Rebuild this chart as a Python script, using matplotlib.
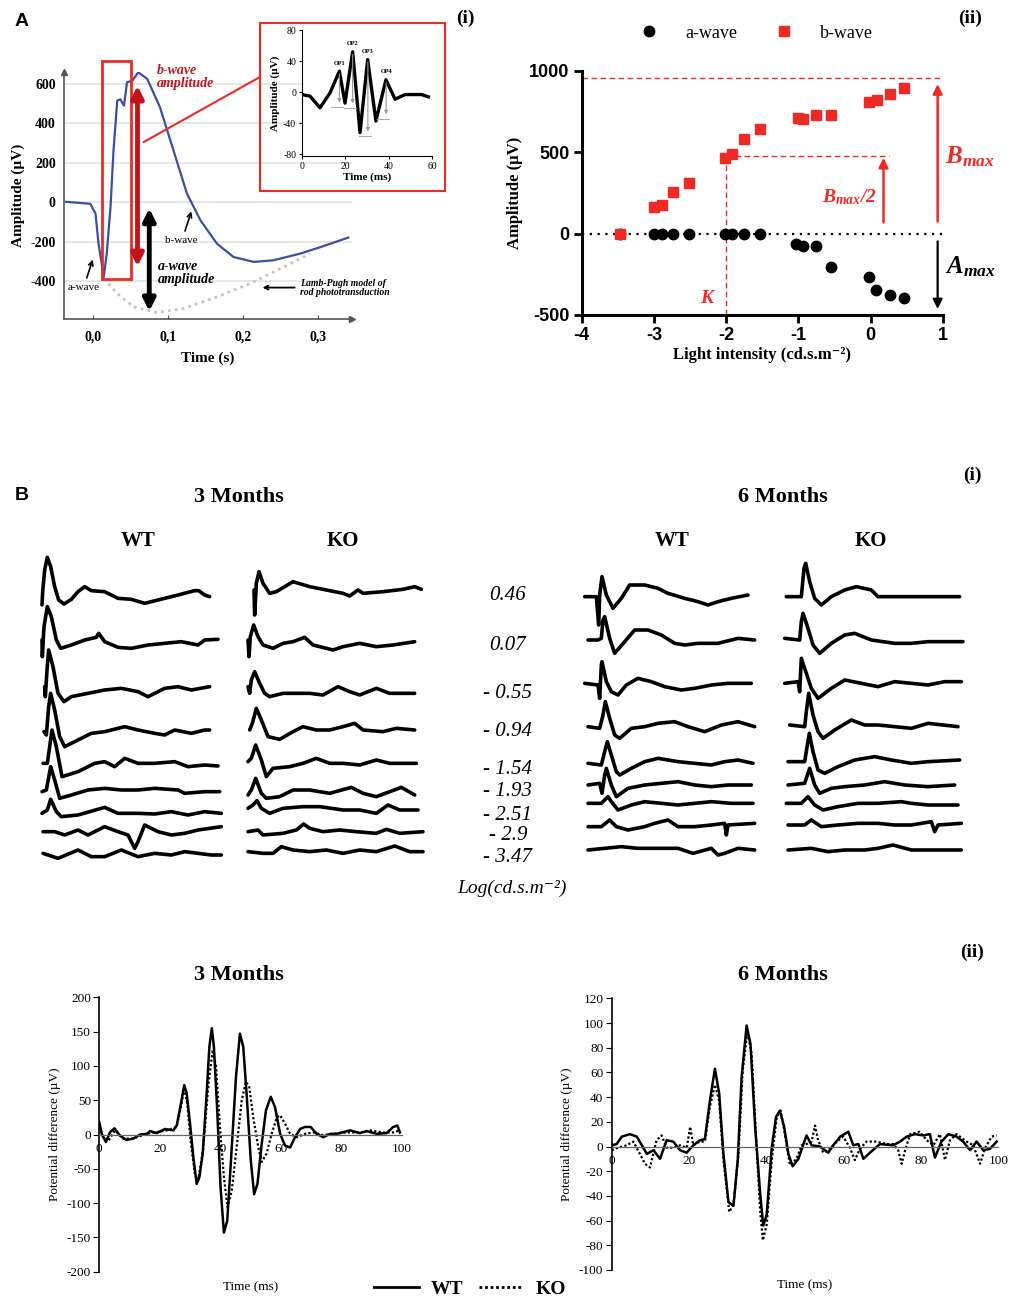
import matplotlib
matplotlib.use("Agg")
import matplotlib.pyplot as plt
from matplotlib.patches import Rectangle, ConnectionPatch
from matplotlib.lines import Line2D

plt.rcParams['font.family'] = ['Liberation Serif', 'DejaVu Serif']
plt.rcParams['axes.unicode_minus'] = False
plt.rcParams['mathtext.fontset'] = 'custom'
plt.rcParams['mathtext.rm'] = 'Liberation Serif'
plt.rcParams['mathtext.it'] = 'Liberation Serif:italic'
plt.rcParams['mathtext.bf'] = 'Liberation Serif:bold:italic'

W, H = 1012, 1300
RED = '#ee2a24'
DARKRED = '#c0141c'

# ---------------- panel A(i): single flash ERG ----------------
erg_t = [-0.036, -0.004, 0.003, 0.007, 0.014, 0.018, 0.023, 0.027, 0.032, 0.036, 0.041, 0.045,
         0.052, 0.060, 0.072, 0.089, 0.107, 0.125, 0.143, 0.165, 0.187, 0.214, 0.240, 0.276,
         0.303, 0.340]
erg_amp = [3, -7, -56, -207, -377, -258, -24, 263, 515, 522, 490, 608,
           616, 658, 625, 481, 263, 44, -91, -209, -276, -301, -293, -259,
           -226, -178]
lamb_t = [0.014, 0.032, 0.054, 0.085, 0.120, 0.165, 0.209, 0.254, 0.289]
lamb_amp = [-385, -461, -529, -557, -537, -478, -411, -327, -259]

# inset: oscillatory potentials
op_t = [0, 3.8, 8.4, 13, 17.3, 19.9, 23.4, 26.8, 30.3, 34.1, 38.7, 42.9, 47.5, 55.1, 58.2]
op_amp = [-3, -5, -20, -1, 27, -14, 52, -52, 42, -37, 16, -9, -3, -3, -6]
op_names = ['OP1', 'OP2', 'OP3', 'OP4']
op_peak_t = [17.3, 23.4, 30.4, 38.8]
op_peak_amp = [27, 52, 42, 16]
op_trough_amp = [-19, -20, -56, -34]

# ---------------- panel A(ii): intensity response ----------------
a_int = [-3.47, -3.0, -2.89, -2.73, -2.51, -2.02, -1.92, -1.75, -1.53, -1.03, -0.94, -0.75,
         -0.55, -0.02, 0.077, 0.27, 0.47]
a_amp = [0, 0, 0, 0, 0, 0, 0, 0, 0, -61, -78, -78, -204, -266, -344, -378, -395]
b_int = [-3.47, -3.0, -2.89, -2.73, -2.51, -2.02, -1.92, -1.75, -1.53, -1.01, -0.93, -0.75,
         -0.55, -0.02, 0.086, 0.27, 0.47]
b_amp = [0, 164, 174, 256, 311, 466, 491, 579, 640, 712, 706, 726, 730, 808, 822, 859, 894]
b_max = 955
k_int = -2.0

# ---------------- panel B(i): ERG traces, 9 intensities ----------------
intensity_labels = ['0.46', '0.07', '- 0.55', '- 0.94', '- 1.54', '- 1.93', '- 2.51', '- 2.9', '- 3.47']

wt3_traces = [
    ([12, 14, 20, 28, 38, 50, 62, 78, 100, 120, 140, 160, 200, 240, 280, 320, 360, 420, 470, 482, 500, 515],
     [-25, 15, 80, 118, 90, 30, -10, -22, -8, 15, 30, 18, 15, -5, -8, -20, -10, 5, 18, 18, 5, 0]),
    ([12, 13, 18, 28, 40, 55, 68, 100, 140, 175, 182, 200, 240, 280, 330, 380, 430, 480, 500, 540],
     [10, -40, 50, 110, 80, 10, -15, -5, 10, 18, 30, 5, -12, -15, -5, 0, 5, -5, 10, 12]),
    ([20, 22, 27, 32, 45, 60, 78, 100, 150, 200, 250, 300, 330, 380, 420, 460, 515],
     [10, -20, 60, 120, 70, -10, -35, -20, -10, 0, 5, -5, -20, 5, 10, 0, 10]),
    ([18, 25, 32, 38, 50, 65, 80, 110, 160, 200, 260, 300, 350, 380, 410, 460, 500, 515],
     [0, -10, 75, 115, 65, -15, -45, -30, -5, 0, 15, 5, -5, -10, 5, -5, 5, 5]),
    ([15, 28, 42, 55, 72, 120, 170, 200, 230, 260, 300, 350, 410, 450, 500, 540],
     [10, 10, 110, 60, -30, -15, 10, 15, 0, 25, 10, 10, 15, 0, 5, 2]),
    ([12, 25, 38, 50, 65, 100, 150, 200, 250, 300, 350, 420, 440, 500, 545],
     [0, 5, 75, 35, -20, -10, 5, 10, 5, 5, 10, 5, -5, 0, 0]),
    ([12, 28, 38, 55, 70, 120, 200, 240, 300, 350, 400, 450, 500, 550],
     [0, 10, 42, 5, -10, -5, 18, 0, 0, -2, 5, -5, 5, 0]),
    ([15, 50, 80, 120, 150, 200, 240, 270, 290, 300, 320, 360, 400, 440, 480, 550],
     [0, 0, -10, 5, -10, 15, 0, -10, -50, -30, 20, 0, -10, -5, 5, 15]),
    ([15, 60, 120, 160, 200, 250, 300, 350, 400, 440, 480, 520, 550],
     [5, -10, 15, -5, -5, 15, -5, 5, 0, 10, 5, 0, 0]),
]
ko3_traces = [
    ([33, 35, 40, 48, 60, 80, 100, 150, 200, 250, 300, 320, 345, 360, 420, 480, 515, 535],
     [0, -75, 20, 55, 20, -10, -5, 25, 10, 0, -10, -18, 0, -10, -5, 2, 10, 2]),
    ([15, 18, 22, 32, 45, 60, 90, 120, 150, 185, 210, 250, 270, 300, 350, 400, 450, 515],
     [10, -40, 20, 55, 20, -5, -15, 0, 5, 18, -5, -15, -20, -10, 0, -10, -5, 5]),
    ([15, 20, 25, 35, 50, 65, 80, 120, 160, 200, 240, 285, 320, 350, 400, 440, 515],
     [20, 0, 40, 65, 30, 0, -10, 0, 0, 0, -5, 20, 5, -5, 15, 0, 0]),
    ([20, 28, 40, 55, 75, 110, 150, 180, 220, 260, 300, 335, 360, 420, 460, 515],
     [0, 20, 65, 30, -20, -28, -5, 10, 0, 0, 10, 20, 0, -5, 5, 0]),
    ([15, 25, 38, 55, 70, 90, 140, 180, 220, 260, 300, 350, 400, 440, 520],
     [10, 20, 60, 15, -35, -10, -5, 5, 20, 5, 5, 0, 15, 5, 5]),
    ([15, 25, 38, 55, 70, 110, 150, 200, 260, 325, 360, 400, 475, 515],
     [-5, 10, 45, 0, -15, -10, 10, 10, 0, 18, 0, -10, 18, -5]),
    ([15, 30, 42, 55, 80, 120, 180, 230, 300, 350, 400, 435, 470, 525],
     [5, 15, 28, 5, -10, 5, 10, 10, 0, 0, -10, 15, 0, 0]),
    ([15, 45, 60, 120, 160, 182, 200, 240, 290, 340, 400, 430, 470, 540],
     [0, 5, -10, -5, 5, 23, 10, 0, 5, 0, -5, 7, -5, 0]),
    ([15, 60, 90, 115, 150, 200, 250, 300, 350, 400, 455, 500, 540],
     [0, -5, -5, 15, 5, 0, 5, -5, 5, 0, 17, 0, 0]),
]
wt6_traces = [
    ([20, 55, 62, 65, 72, 85, 105, 130, 155, 200, 240, 270, 320, 360, 390, 420, 460, 510],
     [0, 0, -85, 5, 60, 5, -35, -5, 35, 35, 25, 10, -5, -15, -25, -15, -5, 5]),
    ([30, 60, 70, 75, 80, 95, 110, 140, 170, 210, 250, 290, 320, 360, 420, 480, 530],
     [0, 0, 5, 60, 70, 5, -40, -5, 30, 30, 15, -10, -15, -10, -10, 5, 0]),
    ([20, 60, 65, 70, 72, 85, 100, 120, 145, 180, 220, 260, 310, 350, 400, 450, 520],
     [0, -5, -45, 55, 65, 5, -25, -35, -5, 15, 5, -10, -20, -15, -5, 0, 0]),
    ([30, 65, 75, 82, 95, 110, 125, 160, 200, 240, 290, 330, 380, 430, 480, 530],
     [0, -5, 35, 75, 25, -25, -35, -5, 0, 10, 15, 0, -15, 5, 15, 0]),
    ([30, 70, 80, 88, 100, 115, 125, 160, 200, 240, 300, 350, 400, 440, 480, 525],
     [0, -5, 35, 65, 25, -25, -35, -15, 5, 15, 5, 0, -5, 5, 10, 0]),
    ([30, 65, 72, 80, 85, 100, 115, 150, 200, 250, 300, 350, 400, 450, 520],
     [0, 5, -25, 30, 50, 0, -35, -10, 0, 5, 10, 0, -5, 0, 0]),
    ([30, 70, 90, 100, 120, 160, 200, 250, 300, 350, 400, 460, 525],
     [0, 0, 20, 5, -20, -5, 5, 0, -5, 0, 5, 0, 0]),
    ([30, 70, 95, 115, 150, 200, 230, 270, 300, 350, 400, 440, 445, 450, 530],
     [0, 0, 20, 0, -10, 0, 10, 20, 0, 0, 5, 10, -25, 5, 10]),
    ([30, 80, 130, 180, 230, 300, 345, 400, 420, 440, 480, 530],
     [0, 5, 10, 5, 5, 5, -10, 5, -15, -10, 5, 0]),
]
ko6_traces = [
    ([25, 70, 78, 83, 95, 110, 130, 160, 200, 235, 280, 300, 350, 400, 450, 545],
     [0, 0, 85, 100, 45, -5, -25, 0, 20, 30, 20, 0, 0, 0, 0, 0]),
    ([20, 65, 70, 75, 90, 105, 125, 160, 200, 230, 280, 350, 400, 450, 500, 555],
     [5, 0, 55, 80, 35, -15, -40, -10, 15, 20, 0, -10, -10, -5, -5, -5]),
    ([20, 60, 65, 70, 80, 100, 120, 160, 200, 250, 300, 350, 400, 450, 500, 550],
     [0, 5, -25, 75, 45, -15, -45, -15, 10, 0, -10, 5, 0, -5, 5, 5]),
    ([35, 80, 85, 92, 105, 120, 135, 170, 220, 260, 300, 350, 400, 450, 540],
     [0, -5, 40, 95, 30, -20, -40, -15, 15, 0, 0, -5, -10, 5, -5]),
    ([30, 80, 88, 94, 105, 120, 140, 180, 230, 290, 340, 400, 450, 545],
     [0, 0, 50, 85, 30, -25, -35, -15, 5, 15, 5, -5, 0, 5]),
    ([30, 80, 95, 110, 125, 160, 200, 260, 320, 380, 450, 530],
     [0, 5, 50, 0, -25, -10, -5, 0, 10, 0, -5, 0]),
    ([25, 70, 90, 110, 135, 180, 240, 300, 370, 400, 450, 540],
     [0, 0, 20, -5, -20, -10, 0, 0, 5, 0, -5, -5]),
    ([30, 80, 100, 130, 180, 240, 300, 350, 400, 460, 470, 480, 550],
     [0, 0, 15, -5, 0, 5, 5, 0, 0, 10, -20, 0, 5]),
    ([30, 100, 150, 200, 260, 300, 345, 400, 450, 500, 550],
     [0, 5, -5, 0, 0, 5, 15, 0, 0, 0, 0]),
]

# ---------------- panel B(ii): oscillatory potentials ----------------
wt3_t = [0, 0.8, 2.2, 3.5, 5, 6.8, 9, 11.2, 13.5, 15.7, 16.8, 19, 21.7, 24.5, 25.6, 27.2, 28.1,
         28.9, 30, 31.1, 32.2, 33.1, 34.2, 35.5, 36.4, 37.2, 37.9, 39, 40.1, 41.2, 42.3, 43.8,
         45.2, 46.5, 47.6, 48.7, 50.1, 51.2, 52.3, 53.7, 55.1, 56.7, 58.1, 59.8, 61.4, 63.1,
         64.7, 66.4, 68, 69.9, 71.9, 74.1, 76.3, 78.5, 82.9, 86.2, 88.4, 91.7, 95, 97.2, 98.6, 99.4]
wt3_amp = [18, 1, -11, 3, 9, -1.5, -8, -6, 0, 1, 5, 2, 8, 6, 13, 50, 72, 60, 16, -33, -72, -62,
           -28, 60, 128, 155, 128, 35, -77, -143, -126, -19, 84, 147, 128, 60, -38, -87, -72,
           -14, 35, 55, 40, 1, -16, -19, -4, 8, 11, 11, 1, -4, 1, 1, 6, 2, 5, 1, 2, 11, 13, 3]
ko3_t = [0, 1.3, 3, 5.2, 7.9, 11.2, 15.7, 22.3, 25.6, 27.2, 28.1, 29.1, 30.2, 31.6, 32.7, 34.4,
         36.1, 37.5, 38.6, 39.9, 41.2, 42.4, 43.8, 45.4, 47.1, 48.5, 49.6, 50.9, 52.6, 53.7,
         55.3, 57, 58.7, 59.8, 61.4, 63.1, 65.3, 68, 70.8, 74.1, 77.4, 81.8, 86.2, 89.5, 93.9,
         97.2, 99.4]
ko3_amp = [11, -4, -9, 6, -6, -6, 1, 6, 11, 45, 69, 45, -9, -58, -67, -19, 74, 123, 99, 11, -62,
           -106, -82, -19, 50, 77, 69, 25, -19, -40, -28, 1, 25, 28, 16, 1, -4, 1, 3, -1, 1, 3,
           3, 6, 3, 3, 6]
wt6_t = [0, 1.3, 2.6, 4.7, 6.5, 7.8, 9.1, 10.8, 12.5, 14.2, 15.9, 17.7, 19.4, 21.1, 22.8, 24.1,
         25.4, 26.7, 27.8, 28.9, 30.2, 31.5, 32.6, 33.6, 34.9, 35.9, 37.1, 38.4, 39.2, 40.1,
         41.4, 42.5, 43.5, 44.6, 45.7, 46.8, 48.3, 49.6, 50.4, 51.7, 53.9, 56, 57.3, 59.1,
         61.2, 62.5, 63.8, 65.1, 66.8, 69.4, 72.8, 74.6, 76.3, 78.4, 80.6, 82.3, 83.6, 85.3,
         87.1, 89.2, 90.9, 92.7, 94.4, 96.1, 97.8, 99.6]
wt6_amp = [1, 2, 8, 10, 8, 1, -6, -3, -10, 5, 4, -3, -5, 1, 5, 6, 37, 63, 43, -6, -45, -48, -11,
           56, 98, 83, 16, -38, -64, -55, -1, 24, 29, 16, -6, -16, -10, 2, 9, 1, 0, -5, 1, 8,
           12, 1, 2, -10, -5, 2, 1, 4, 8, 10, 9, 10, -9, 4, 10, 8, 4, -3, 4, -3, -2, 4]
ko6_t = [0, 1.7, 3.9, 5.6, 7.3, 8.6, 9.9, 11.6, 12.9, 14.2, 15.9, 17.7, 19.4, 20.3, 21.1, 22.8,
         24.1, 25.4, 26.7, 27.8, 28.9, 30.4, 31.5, 32.8, 33.9, 35.1, 36.2, 37.3, 38.4, 39.1,
         40.1, 41.4, 42.7, 43.7, 44.8, 46.1, 47.8, 49.1, 50.4, 51.7, 52.6, 53.4, 54.7, 56.5,
         58.2, 59.9, 61.6, 62.9, 64.2, 65.9, 68.5, 71.1, 72.8, 74.1, 75, 75.9, 77.2, 79.7,
         81.5, 83.2, 84.9, 86.2, 87.5, 89.2, 91.8, 93.5, 95.3, 96.6, 98.3, 99.6]
ko6_amp = [-3, -1, 1, 4, -6, -14, -17, 5, 9, -1, -1, 1, -1, 16, 1, 4, 4, 32, 50, 37, -11, -53,
           -47, -6, 62, 93, 75, 10, -52, -76, -63, -11, 24, 29, 10, -15, -10, 1, 2, 4, 17, 5,
           -5, -2, 4, 8, -1, -11, -2, 4, 4, 2, 2, -3, -14, -3, 10, 12, 5, 1, 10, -11, 5, 10, 4,
           1, -14, -1, 8, 9]


def box(x, y, w, h):
    # pixel box (top-left origin) -> figure fraction rect
    return [x / W, 1 - (y + h) / H, w / W, h / H]


def ftext(x, y, s, **kw):
    fig.text(x / W, 1 - y / H, s, **kw)


fig = plt.figure(figsize=(W / 100, H / 100), dpi=100)

# ================= A(i) =================
ax = fig.add_axes(box(64, 72, 288, 247))
ax.set_xlim(-0.039, 0.345)
ax.set_ylim(-590, 660)
for yv in [600, 400, 200, 0, -200, -400]:
    ax.axhline(yv, color='#e3e3e3', lw=1.2, zorder=0)
ax.plot(lamb_t, lamb_amp, color='#c4c4c4', lw=2, ls=(0, (1, 1.5)), zorder=1)
ax.plot(erg_t, erg_amp, color='#3b4ea3', lw=1.6, zorder=3)
ax.add_patch(Rectangle((0.0116, -390), 0.0384, 1104, fill=False, ec=RED, lw=2, clip_on=False, zorder=4))
ax.annotate('', xy=(0.059, 605), xytext=(0.059, -338),
            arrowprops=dict(arrowstyle='<|-|>', color=DARKRED, lw=3.5, mutation_scale=18), zorder=5)
ax.annotate('', xy=(0.0747, -16), xytext=(0.0747, -565),
            arrowprops=dict(arrowstyle='<|-|>', color='black', lw=3.5, mutation_scale=18),
            annotation_clip=False)
ax.text(0.085, 700, 'b-wave\namplitude', color=DARKRED, fontsize=10, fontweight='bold',
        fontstyle='italic', va='top', linespacing=1.0)
ax.text(0.086, -290, 'a-wave\namplitude', color='black', fontsize=10, fontweight='bold',
        fontstyle='italic', va='top', linespacing=1.0)
ax.annotate('b-wave', xy=(0.132, -32), xytext=(0.118, -195), fontsize=8, ha='center', va='center',
            arrowprops=dict(arrowstyle='->', color='black', lw=1.2))
ax.annotate('a-wave', xy=(0.0005, -276), xytext=(-0.013, -432), fontsize=8, ha='center', va='center',
            arrowprops=dict(arrowstyle='->', color='black', lw=1.2))
ax.annotate('Lamb-Pugh model of\nrod phototransduction', xy=(0.222, -431), xytext=(0.276, -431),
            fontsize=7, fontweight='bold', fontstyle='italic', va='center', ha='left', linespacing=1.0,
            arrowprops=dict(arrowstyle='->', color='black', lw=1.3), annotation_clip=False)
for s in ['top', 'right']:
    ax.spines[s].set_visible(False)
for s in ['left', 'bottom']:
    ax.spines[s].set_color('#555555')
    ax.spines[s].set_linewidth(1.2)
ax.plot([0], [1], marker='^', color='#555555', ms=4, transform=ax.transAxes, clip_on=False)
ax.plot([1], [0], marker='>', color='#555555', ms=4, transform=ax.transAxes, clip_on=False)
ax.set_yticks([600, 400, 200, 0, -200, -400])
ax.set_xticks([0.0, 0.1, 0.2, 0.3])
ax.set_xticklabels(['0,0', '0,1', '0,2', '0,3'])
ax.tick_params(axis='y', length=0, labelsize=10, pad=6)
ax.tick_params(axis='x', direction='in', length=3, color='#555555', labelsize=10, pad=8)
for lab in ax.get_xticklabels() + ax.get_yticklabels():
    lab.set_fontweight('bold')
ax.set_ylabel('Amplitude (µV)', fontsize=11, fontweight='bold', labelpad=4)
ax.set_xlabel('Time (s)', fontsize=11, fontweight='bold', labelpad=6)

# inset box + connector
fig.add_artist(Rectangle((260 / W, 1 - 191 / H), 185 / W, 168 / H, transform=fig.transFigure,
                         fill=False, ec=RED, lw=1.5))
fig.add_artist(ConnectionPatch(xyA=(0.067, 305), coordsA=ax.transData,
                               xyB=(260 / W, 1 - 77 / H), coordsB=fig.transFigure, color=RED, lw=1.5))

axi = fig.add_axes(box(301.7, 30, 130.6, 126))
axi.set_xlim(0, 60)
axi.set_ylim(-82, 80)
axi.plot(op_t, op_amp, color='black', lw=2.4, solid_joinstyle='round')
for name, pt, pa, ta in zip(op_names, op_peak_t, op_peak_amp, op_trough_amp):
    axi.plot([pt - 4, pt + 1.5], [ta, ta], color='#aaaaaa', lw=0.8)
    axi.annotate('', xy=(pt, ta + 2), xytext=(pt, pa),
                 arrowprops=dict(arrowstyle='-|>', color='#999999', lw=0.8, mutation_scale=5))
    axi.text(pt, pa + 7, name, fontsize=4.5, fontweight='bold', ha='center', va='bottom')
for s in ['top', 'right']:
    axi.spines[s].set_visible(False)
axi.set_xticks([0, 20, 40, 60])
axi.set_yticks([80, 40, 0, -40, -80])
axi.tick_params(labelsize=7, length=2, pad=2)
axi.set_ylabel('Amplitude (µV)', fontsize=8, fontweight='bold', labelpad=2)
axi.set_xlabel('Time (ms)', fontsize=8, fontweight='bold', labelpad=1)

# ================= A(ii) =================
ax2 = fig.add_axes(box(581.7, 70.7, 361, 244.3))
ax2.set_xlim(-4, 1)
ax2.set_ylim(-500, 1000)
ax2.plot([-4, 1.0], [0, 0], color='black', lw=1.6, ls=(0, (1, 2.5)), zorder=1)
ax2.plot([-4, 1.0], [b_max, b_max], color=RED, lw=1, ls=(0, (4, 2.5)), clip_on=False)
ax2.plot([k_int, k_int], [-500, b_max / 2], color=RED, lw=1, ls=(0, (4, 2.5)))
ax2.plot([k_int, 0.25], [b_max / 2, b_max / 2], color=RED, lw=1, ls=(0, (4, 2.5)))
ax2.plot(a_int, a_amp, 'o', color='black', ms=7.5, zorder=3, clip_on=False, label='a-wave')
ax2.plot(b_int, b_amp, 's', color=RED, ms=7.5, zorder=3, clip_on=False, label='b-wave')
ax2.annotate('', xy=(0.18, b_max / 2 + 5), xytext=(0.18, 51),
             arrowprops=dict(arrowstyle='-|>', color=RED, lw=1.8, mutation_scale=14))
ax2.annotate('', xy=(0.93, b_max - 20), xytext=(0.93, 57),
             arrowprops=dict(arrowstyle='-|>', color=RED, lw=1.8, mutation_scale=14), annotation_clip=False)
ax2.annotate('', xy=(0.93, -480), xytext=(0.93, -31),
             arrowprops=dict(arrowstyle='-|>', color='black', lw=1.6, mutation_scale=14), annotation_clip=False)
ax2.text(-0.29, 225, r'$\mathbf{B}_{\mathbf{max}}$' + '/2', color=RED, fontsize=14, fontweight='bold',
         fontstyle='italic', ha='center', va='center')
ax2.text(1.38, 470, r'$\mathbf{B}_{\mathbf{max}}$', color=RED, fontsize=18, ha='center', va='center',
         clip_on=False)
ax2.text(1.38, -204, r'$\mathbf{A}_{\mathbf{max}}$', color='black', fontsize=18, ha='center', va='center',
         clip_on=False)
ax2.text(-2.27, -399, 'K', color=RED, fontsize=14, fontweight='bold', fontstyle='italic',
         ha='center', va='center')
for s in ['top', 'right']:
    ax2.spines[s].set_visible(False)
for s in ['left', 'bottom']:
    ax2.spines[s].set_linewidth(2.2)
ax2.set_xticks([-4, -3, -2, -1, 0, 1])
ax2.set_yticks([-500, 0, 500, 1000])
ax2.tick_params(width=2, length=6, labelsize=13, pad=3)
for lab in ax2.get_xticklabels() + ax2.get_yticklabels():
    lab.set_fontweight('bold')
    lab.set_family('Liberation Sans')
ax2.set_ylabel('Amplitude (µV)', fontsize=12, fontweight='bold', labelpad=4)
ax2.set_xlabel('Light intensity (cd.s.m⁻²)', fontsize=12, fontweight='bold', labelpad=2)
fig.legend(handles=[Line2D([], [], ls='none', marker='o', color='black', ms=7.5),
                    Line2D([], [], ls='none', marker='s', color=RED, ms=7.5)],
           labels=['a-wave', 'b-wave'], loc='center', bbox_to_anchor=(752 / W, 1 - 33 / H),
           ncol=2, frameon=False, fontsize=13, handletextpad=1.0, columnspacing=1.6)

# ================= B(i) =================
columns = [
    (wt3_traces, box(38, 550, 190, 320), 570, 960, [140, 280, 420, 545, 650, 725, 790, 845, 915]),
    (ko3_traces, box(243, 550, 190, 320), 570, 960, [120, 280, 430, 540, 645, 730, 780, 845, 905]),
    (wt6_traces, box(578, 555, 180, 315), 540, 945, [125, 255, 385, 515, 625, 690, 745, 815, 885]),
    (ko6_traces, box(778, 555, 190, 315), 570, 945, [125, 255, 385, 510, 620, 690, 745, 810, 885]),
]
for traces, rect, xmax, ymax, bases in columns:
    axc = fig.add_axes(rect)
    axc.set_xlim(0, xmax)
    axc.set_ylim(-ymax, 0)
    axc.axis('off')
    for (tt, aa), base in zip(traces, bases):
        axc.plot(tt, [v - base for v in aa], color='black', lw=2.6,
                 solid_joinstyle='round', solid_capstyle='round')

label_y = [596, 646, 693, 731, 769, 792, 815, 836, 858]
for lab, yy in zip(intensity_labels, label_y):
    ftext(508, yy, lab, fontsize=15, fontstyle='italic', ha='center', va='center')
ftext(512, 888, 'Log(cd.s.m⁻²)', fontsize=14, fontstyle='italic', ha='center', va='center')

ftext(15, 495, 'B', fontsize=14, fontweight='bold', family='Liberation Sans', va='center')
ftext(239, 497, '3 Months', fontsize=16, fontweight='bold', ha='center', va='center')
ftext(783, 497, '6 Months', fontsize=16, fontweight='bold', ha='center', va='center')
ftext(972, 475, '(i)', fontsize=14, fontweight='bold', ha='center', va='center')
for x, s in [(138, 'WT'), (343, 'KO'), (672, 'WT'), (871, 'KO')]:
    ftext(x, 541, s, fontsize=15, fontweight='bold', ha='center', va='center')

# ================= B(ii) =================
op_panels = [
    (box(99.3, 997.3, 302.4, 274.4), wt3_t, wt3_amp, ko3_t, ko3_amp, (-200, 200), range(-200, 201, 50)),
    (box(611.7, 998.3, 386.6, 271.7), wt6_t, wt6_amp, ko6_t, ko6_amp, (-100, 120), range(-100, 121, 20)),
]
for rect, t1, a1, t2, a2, ylim, yt in op_panels:
    axo = fig.add_axes(rect)
    axo.plot(t2, a2, color='black', lw=1.6, ls=(0, (1, 1)))
    axo.plot(t1, a1, color='black', lw=1.8, solid_joinstyle='round')
    axo.set_xlim(0, 100)
    axo.set_ylim(*ylim)
    axo.spines['top'].set_visible(False)
    axo.spines['right'].set_visible(False)
    axo.spines['bottom'].set_position(('data', 0))
    axo.spines['bottom'].set_color('#666666')
    axo.spines['bottom'].set_linewidth(0.9)
    axo.spines['left'].set_linewidth(1.2)
    axo.set_xticks([0, 20, 40, 60, 80, 100])
    axo.set_yticks(list(yt))
    axo.tick_params(axis='x', length=0, labelsize=9.5, pad=6)
    axo.tick_params(axis='y', direction='out', length=4, labelsize=9.5, pad=2)
    axo.set_ylabel('Potential difference (µV)', fontsize=9.5)
    axo.text(0.5, -0.035, 'Time (ms)', transform=axo.transAxes, fontsize=9.5, ha='center', va='top')

ftext(239, 975, '3 Months', fontsize=16, fontweight='bold', ha='center', va='center')
ftext(783, 975, '6 Months', fontsize=16, fontweight='bold', ha='center', va='center')
ftext(972, 952, '(ii)', fontsize=14, fontweight='bold', ha='center', va='center')

fig.legend(handles=[Line2D([], [], color='black', lw=2),
                    Line2D([], [], color='black', lw=2, ls=(0, (1, 1)))],
           labels=['WT', 'KO'], loc='center', bbox_to_anchor=(470 / W, 1 - 1289 / H), ncol=2,
           frameon=False, prop={'weight': 'bold', 'size': 14}, handlelength=2.3,
           handletextpad=0.6, columnspacing=0.8)

# panel letters
ftext(15, 22, 'A', fontsize=14, fontweight='bold', family='Liberation Sans', va='center')
ftext(465, 18, '(i)', fontsize=14, fontweight='bold', ha='center', va='center')
ftext(970, 18, '(ii)', fontsize=14, fontweight='bold', ha='center', va='center')

fig.savefig('out.png', dpi=100)
